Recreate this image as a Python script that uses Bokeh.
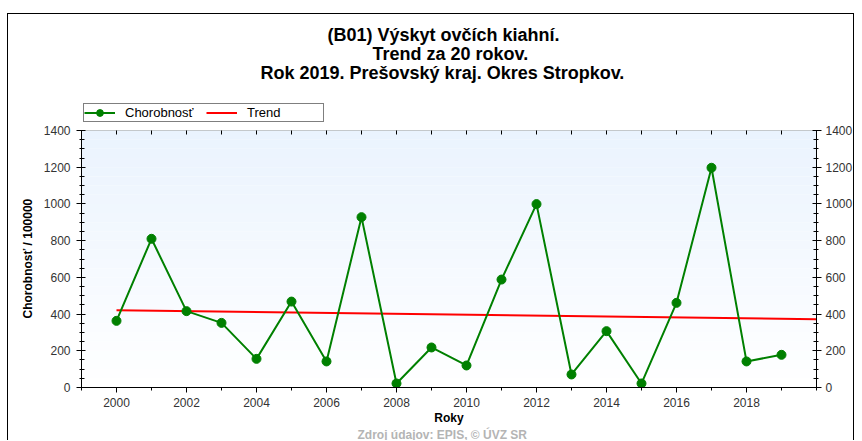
from bokeh.plotting import figure
from bokeh.models import (LinearAxis, FixedTicker, Legend, LegendItem, Title, Range1d,
                          BoxAnnotation)
from bokeh.embed import file_html
from bokeh.resources import INLINE
import math

# ---- data ----
years = [2000, 2001, 2002, 2003, 2004, 2005, 2006, 2007, 2008, 2009,
         2010, 2011, 2012, 2013, 2014, 2015, 2016, 2017, 2018, 2019]
chorobnost = [363, 810, 416, 352, 156, 468, 142, 928, 22, 218,
              120, 588, 999, 71, 307, 22, 461, 1197, 142, 178]
trend_years = [2000, 2020]
trend_values = [421, 372]

x_major_ticks = [2000, 2002, 2004, 2006, 2008, 2010, 2012, 2014, 2016, 2018]
x_minor_ticks = list(range(1999, 2021))
y_major_ticks = [0, 200, 400, 600, 800, 1000, 1200, 1400]
y_minor_ticks = list(range(0, 1401, 50))

title_lines = ["(B01) Výskyt ovčích kiahní.", "Trend za 20 rokov.",
               "Rok 2019. Prešovský kraj. Okres Stropkov."]
y_label = "Chorobnosť / 100000"
x_label = "Roky"
source_text = "Zdroj údajov: EPIS, © ÚVZ SR"
legend_labels = ["Chorobnosť", "Trend"]

FONT = "Liberation Sans"

X0, X1 = 1999, 2020
Y0, Y1 = 0, 1400
# the drawing frame reaches 49 px above the value axis (room for the legend)
PLOT_PX, EXTRA_PX = 257, 49
Y_TOP = Y1 * (PLOT_PX + EXTRA_PX) / PLOT_PX

p = figure(width=847, height=427, x_range=Range1d(X0, X1), y_range=Range1d(Y0, Y_TOP),
           output_backend="svg", toolbar_location=None,
           x_axis_location=None, y_axis_location=None,
           min_border_left=73, min_border_right=36, min_border_top=67, min_border_bottom=54)
p.grid.visible = False
p.background_fill_color = "white"
p.border_fill_color = "white"
p.outline_line_color = None
p.styles = {"border-top": "1px solid black", "border-left": "1px solid black",
            "border-right": "1px solid black", "position": "relative",
            "left": "7px", "top": "13px"}

# plot area: soft vertical gradient (light blue at top to white at bottom)
TOP_RGB, BOT_RGB = (234, 243, 254), (255, 255, 255)
N_BANDS = 28
for i in range(N_BANDS):
    t = (i + 0.5) / N_BANDS
    rgb = tuple(round(b + (a - b) * t) for a, b in zip(TOP_RGB, BOT_RGB))
    p.add_layout(BoxAnnotation(left=X0, right=X1, bottom=Y0 + (Y1 - Y0) * i / N_BANDS,
                               top=Y0 + (Y1 - Y0) * (i + 1) / N_BANDS,
                               fill_color="#%02x%02x%02x" % rgb, fill_alpha=1,
                               line_color=None, level="underlay"))
p.add_layout(BoxAnnotation(left=X0, right=X1, bottom=Y0, top=Y1, fill_color=None,
                           line_color="#555555", line_width=1, level="underlay"))


def style_axis(ax):
    ax.axis_line_color = "black"
    ax.major_tick_line_color = "black"
    ax.minor_tick_line_color = "black"
    ax.major_label_text_font = FONT
    ax.major_label_text_font_size = "12px"
    ax.major_label_text_color = "#333333"
    ax.axis_label_text_font = FONT
    ax.axis_label_text_font_size = "12px"
    ax.axis_label_text_font_style = "bold"
    ax.axis_label_text_color = "black"


left = LinearAxis(ticker=FixedTicker(ticks=y_major_ticks, minor_ticks=y_minor_ticks),
                  bounds=(Y0, Y1))
style_axis(left)
left.major_tick_in = 4
left.major_tick_out = 5
left.minor_tick_in = 3
left.minor_tick_out = 2
left.major_label_standoff = 6
p.add_layout(left, "left")

p.add_layout(Title(text=y_label, align="left", offset=69, standoff=12,
                   text_font=FONT, text_font_size="12px", text_font_style="bold",
                   text_color="black"), "left")

right = LinearAxis(ticker=FixedTicker(ticks=y_major_ticks, minor_ticks=y_minor_ticks),
                   bounds=(Y0, Y1))
style_axis(right)
right.major_tick_in = 4
right.major_tick_out = 5
right.minor_tick_in = 3
right.minor_tick_out = 2
right.major_label_standoff = 4
p.add_layout(right, "right")

bottom = LinearAxis(ticker=FixedTicker(ticks=x_major_ticks, minor_ticks=x_minor_ticks),
                    axis_label=x_label)
style_axis(bottom)
bottom.major_tick_in = 0
bottom.major_tick_out = 5
bottom.minor_tick_in = 0
bottom.minor_tick_out = 3
bottom.major_label_standoff = 5
bottom.axis_label_standoff = 1
p.add_layout(bottom, "below")

# inward year ticks along the top edge of the plot area
p.ray(x=x_minor_ticks, y=[Y1] * len(x_minor_ticks), length=4, length_units="screen",
      angle=-math.pi / 2, line_color="black", line_width=1)

r_trend = p.line(trend_years, trend_values, line_color="#FF0000", line_width=2)
r_line = p.line(years, chorobnost, line_color="#008000", line_width=2)
r_pts = p.scatter(years, chorobnost, size=9, fill_color="#008000", line_color="#008000")

legend = Legend(items=[LegendItem(label=legend_labels[0], renderers=[r_line, r_pts]),
                       LegendItem(label=legend_labels[1], renderers=[r_trend])],
                orientation="horizontal", location=(2, 265))
legend.border_line_color = "black"
legend.border_line_width = 1
legend.background_fill_color = "white"
legend.background_fill_alpha = 1
legend.padding = 0
legend.margin = 0
legend.spacing = 5
legend.label_standoff = 10
legend.glyph_width = 31
legend.glyph_height = 17
legend.label_height = 17
legend.label_width = 76
legend.label_text_font = FONT
legend.label_text_font_size = "13px"
legend.label_text_color = "black"
p.add_layout(legend)

title_offsets = [246, 291, 179]
for txt, off in zip(reversed(title_lines), reversed(title_offsets)):
    p.add_layout(Title(text=txt, align="left", offset=off, standoff=-3,
                       text_font=FONT, text_font_size="18px", text_font_style="bold",
                       text_color="black"), "above")

p.add_layout(Title(text=source_text, align="left", offset=276, standoff=-4,
                   text_font=FONT, text_font_size="12px", text_font_style="bold",
                   text_color="#B4B4B4"), "below")

open("out.html", "w").write(file_html(p, INLINE))
